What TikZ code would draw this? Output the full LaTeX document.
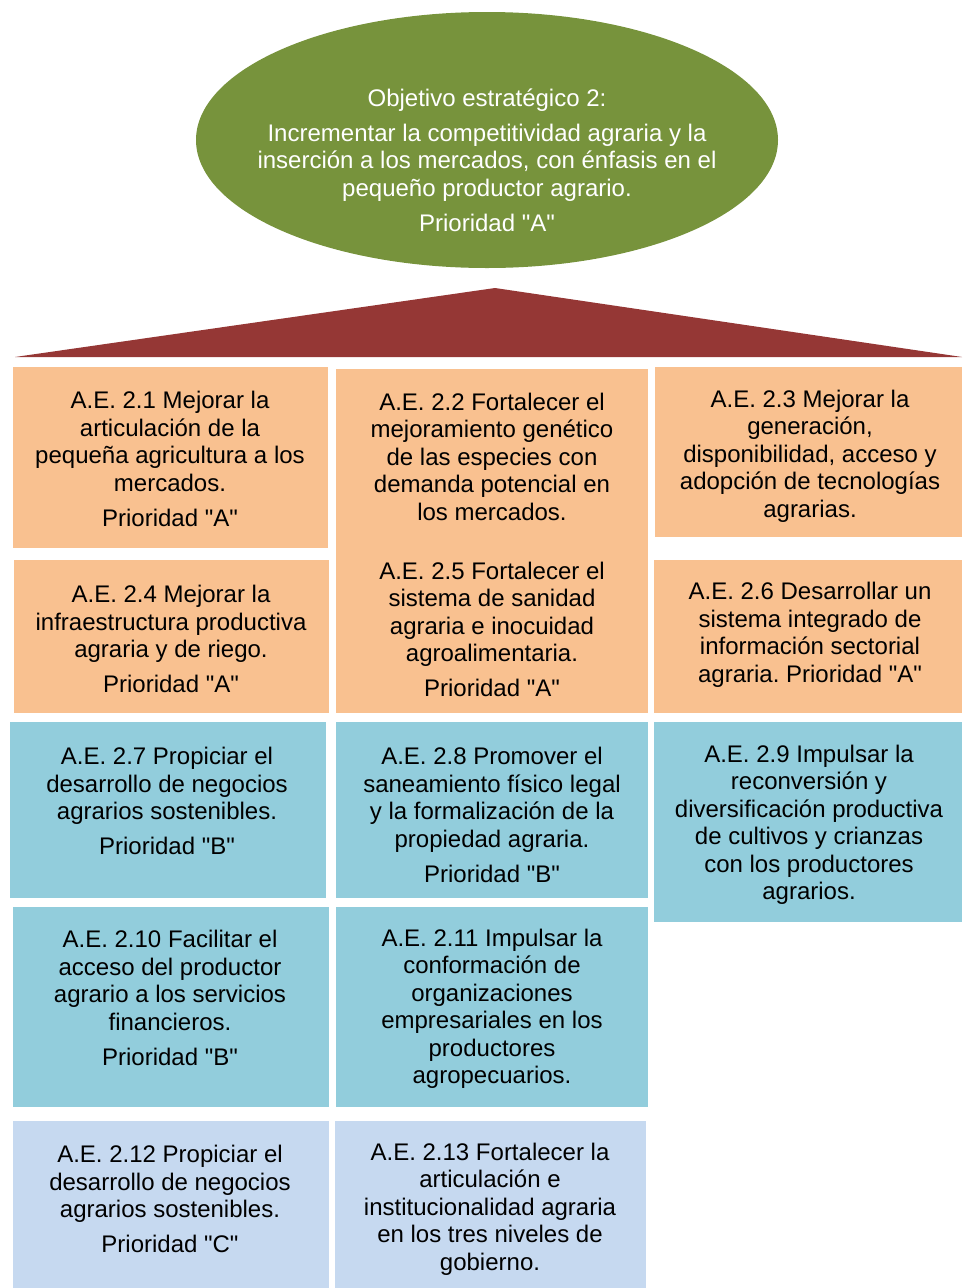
\documentclass[tikz,border=0pt]{standalone}
\usepackage{fontspec}
\setmainfont{Liberation Sans}
\usetikzlibrary{shapes.geometric}
\definecolor{orangebox}{RGB}{249,193,144}
\definecolor{bluebox}{RGB}{146,205,220}
\definecolor{lightbox}{RGB}{198,217,240}
\definecolor{greenell}{RGB}{119,147,60}
\definecolor{redroof}{RGB}{149,55,53}
\newcommand{\qq}{\textquotedbl}
\frenchspacing
\tikzset{
  x=1pt, y=-1pt,
  txt/.style={align=center, inner sep=0pt, font=\fontsize{24}{27.5}\selectfont\frenchspacing, text=black},
  wtxt/.style={txt, text=white},
}
\begin{document}
\begin{tikzpicture}
\useasboundingbox (0,0) rectangle (962,1288);
% ellipse
\node[ellipse, fill=greenell, minimum width=582pt, minimum height=256pt, inner sep=0pt] (obj) at (487,140) {};
\node[wtxt] (objt) at (487,160) {Objetivo estratégico 2:\\[7.5pt]
Incrementar la competitividad agraria y la\\
inserción a los mercados, con énfasis en el\\
pequeño productor agrario.\\[7.5pt]
Prioridad \qq A\qq};
% roof
\coordinate (apex) at (495,288);
\coordinate (bl) at (15,357);
\coordinate (br) at (962,357);
\fill[redroof] (apex) -- (br) -- (bl) -- cycle;
% boxes
\fill[orangebox] (13,367) rectangle (328,548);
\node[txt] (t21) at (170,459) {A.E. 2.1 Mejorar la\\articulación de la\\pequeña agricultura a los\\mercados.\\[7.5pt]Prioridad \qq A\qq};
\fill[orangebox] (336,369) rectangle (648,713);
\node[txt] (t22) at (492,545) {A.E. 2.2 Fortalecer el\\mejoramiento genético\\de las especies con\\demanda potencial en\\los mercados.\\[31.5pt]A.E. 2.5 Fortalecer el\\sistema de sanidad\\agraria e inocuidad\\agroalimentaria.\\[7.5pt]Prioridad \qq A\qq};
\fill[orangebox] (655,367) rectangle (962,537);
\node[txt] (t23) at (810,456) {A.E. 2.3 Mejorar la\\generación,\\disponibilidad, acceso y\\adopción de tecnologías\\agrarias.};
\fill[orangebox] (14,560) rectangle (329,713);
\node[txt] (t24) at (171,639) {A.E. 2.4 Mejorar la\\infraestructura productiva\\agraria y de riego.\\[7.5pt]Prioridad \qq A\qq};
\fill[orangebox] (654,560) rectangle (962,713);
\node[txt] (t26) at (810,635) {A.E. 2.6 Desarrollar un\\sistema integrado de\\información sectorial\\agraria. Prioridad \qq A\qq};
\fill[bluebox] (10,722) rectangle (326,898);
\node[txt] (t27) at (167,801) {A.E. 2.7 Propiciar el\\desarrollo de negocios\\agrarios sostenibles.\\[7.5pt]Prioridad \qq B\qq};
\fill[bluebox] (336,722) rectangle (648,898);
\node[txt] (t28) at (492,815) {A.E. 2.8 Promover el\\saneamiento físico legal\\y la formalización de la\\propiedad agraria.\\[7.5pt]Prioridad \qq B\qq};
\fill[bluebox] (654,722) rectangle (962,922);
\node[txt] (t29) at (809,825) {A.E. 2.9 Impulsar la\\reconversión y\\diversificación productiva\\de cultivos y crianzas\\con los productores\\agrarios.};
\fill[bluebox] (13,907) rectangle (329,1107);
\node[txt] (t210) at (170,998) {A.E. 2.10 Facilitar el\\acceso del productor\\agrario a los servicios\\financieros.\\[7.5pt]Prioridad \qq B\qq};
\fill[bluebox] (336,907) rectangle (648,1107);
\node[txt] (t211) at (492,1009) {A.E. 2.11 Impulsar la\\conformación de\\organizaciones\\empresariales en los\\productores\\agropecuarios.};
\fill[lightbox] (13,1121) rectangle (329,1288);
\node[txt] (t212) at (170,1199) {A.E. 2.12 Propiciar el\\desarrollo de negocios\\agrarios sostenibles.\\[7.5pt]Prioridad \qq C\qq};
\fill[lightbox] (335,1121) rectangle (646,1288);
\node[txt] (t213) at (490,1209) {A.E. 2.13 Fortalecer la\\articulación e\\institucionalidad agraria\\en los tres niveles de\\gobierno.};
\end{tikzpicture}
\end{document}
